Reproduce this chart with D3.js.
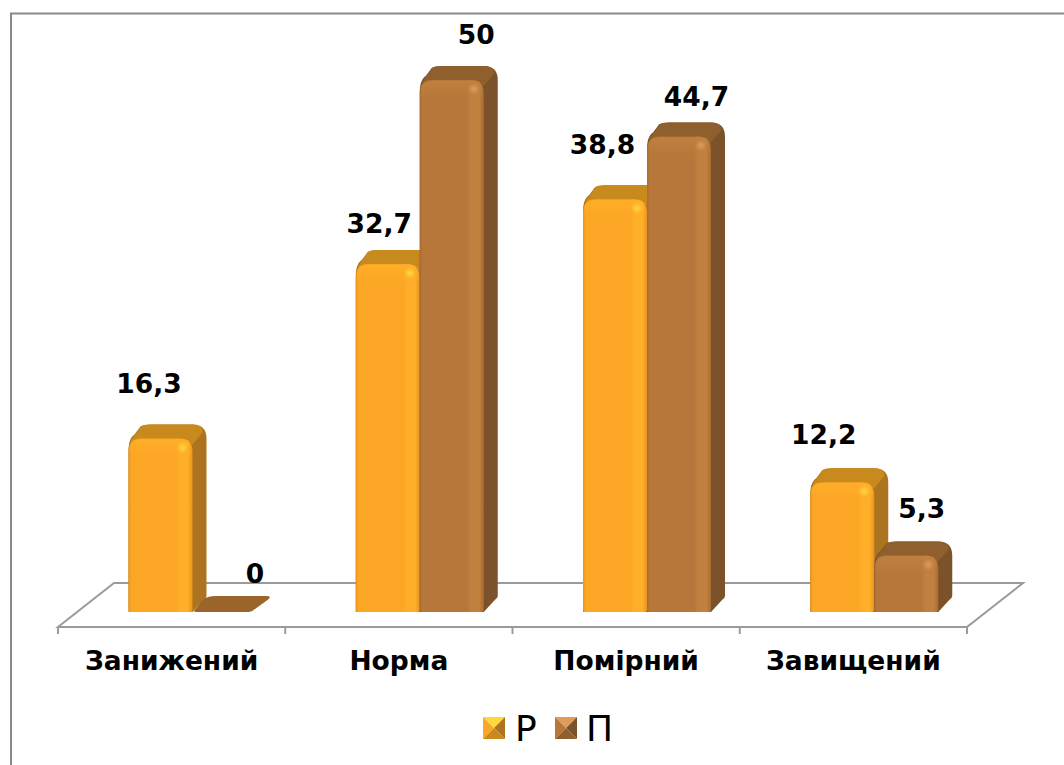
<!DOCTYPE html>
<html lang="uk"><head><meta charset="utf-8">
<script src="https://cdn.jsdelivr.net/npm/d3@7"></script>
<style>html,body{margin:0;padding:0;background:#fff;overflow:hidden}svg{display:block}text{font-family:"DejaVu Sans",sans-serif}</style>
</head><body><svg id="c" width="1064" height="765"></svg>
<script>
const categories = ["Занижений", "Норма", "Помірний", "Завищений"];
const seriesNames = ["Р", "П"];
const seriesR = [16.3, 32.7, 38.8, 12.2];
const seriesP = [0, 50, 44.7, 5.3];
const valueLabels = [["16,3","32,7","38,8","12,2"],["0","50","44,7","5,3"]];
const labelShift = [[[-11,-32],[-8,-17],[-12,-31],[-18,-24]],[[31,-15],[25,-22],[18,-16],[16,-24]]];

const palette = [
 {front:"#fca625",edge:"#e8931c",lite:"#ffae29",top:"#c88a1d",side:"#ad741f",glow:"#ffd83a"},
 {front:"#b8773a",edge:"#a96b30",lite:"#c08040",top:"#8f5f2e",side:"#7b5229",glow:"#e09a5c"}
];
const svg = d3.select("#c"), defs = svg.append("defs");
const floorY = 612, depth = 14;
const x = d3.scaleBand().domain(categories).range([58,967]);
const xS = d3.scaleBand().domain([0,1]).range([70,198]);
const y = d3.scaleLinear().domain([0,50]).range([floorY,80]);

palette.forEach((c,i)=>{
  const g = defs.append("linearGradient").attr("id","fr"+i);
  [[0,c.edge],[.04,c.front],[.74,c.front],[.8,c.lite],[.93,c.lite],[1,c.edge]].forEach(s=>g.append("stop").attr("offset",s[0]).attr("stop-color",s[1]));
  const b = defs.append("linearGradient").attr("id","bv"+i).attr("x2",0).attr("y2",1);
  b.append("stop").attr("offset",0).attr("stop-color",c.lite);
  b.append("stop").attr("offset",1).attr("stop-color",c.lite).attr("stop-opacity",0);
  const r = defs.append("radialGradient").attr("id","gl"+i);
  r.append("stop").attr("offset",0).attr("stop-color",c.glow);
  r.append("stop").attr("offset",1).attr("stop-color",c.glow).attr("stop-opacity",0);
});

svg.append("path").attr("d","M11,765V13.5H1064").attr("fill","none").attr("stroke","#8a8a8a").attr("stroke-width",2);

const fx0=x.range()[0], fx1=x.range()[1], fy=627, backY=583, skew=56;
svg.append("path").attr("d",`M${fx0},${fy}L${fx0+skew},${backY}H${fx1+skew}L${fx1},${fy}Z`)
  .attr("fill","#fff").attr("stroke","#9a9a9a").attr("stroke-width",2);
svg.append("g").selectAll("line").data(x.domain().map(d=>x(d)).concat(fx1)).join("line")
  .attr("x1",d=>d).attr("x2",d=>d).attr("y1",fy).attr("y2",fy+7).attr("stroke","#9a9a9a").attr("stroke-width",2);

const axis = svg.append("g").attr("transform",`translate(0,${fy})`).call(d3.axisBottom(x).tickSize(0).tickPadding(24));
axis.select(".domain").remove();
axis.selectAll("text").attr("font-size",26.5).attr("font-weight",700).attr("fill","#000").style("font-family",'"DejaVu Sans",sans-serif');

function bar(g,i,X,W,top){
  const c=palette[i], d=depth, h=floorY-top, r=Math.min(13,h*.35), R=X+W;
  if(h<=0){
    const e=d+2;
    g.append("path").attr("d",`M${X+4},${floorY}Q${X-1},${floorY} ${X+4},${floorY-4}L${X+e-6},${floorY-e+4}Q${X+e-2},${floorY-e} ${X+e+8},${floorY-e}H${R+d-4}Q${R+d+2},${floorY-e} ${R+d-3},${floorY-e+4}L${R-3},${floorY-2}Q${R-5},${floorY} ${R-10},${floorY}Z`).attr("fill","#9a642b");
    return;
  }
  const s=Math.min(14,h*.4);
  g.append("path").attr("d",`M${X},${floorY}V${top+r}C${X},${top+2} ${X+3},${top-2} ${X+6},${top-4}L${X+d-2},${top-d+2}Q${X+d+1},${top-d} ${X+d+8},${top-d}H${R+d-s}Q${R+d},${top-d} ${R+d},${top-d+s}V${floorY-d-2}Q${R+d},${floorY-d} ${R+d-3},${floorY-d+2}L${R},${floorY}Z`).attr("fill",c.side);
  g.append("path").attr("d",`M${X+2},${top+3}C${X+4},${top-1} ${X+6},${top-3} ${X+8},${top-5}L${X+d-2},${top-d+2}Q${X+d+1},${top-d} ${X+d+8},${top-d}H${R+d-s}Q${R+d-3},${top-d} ${R+d-4},${top-d+8}L${R},${top+6}Z`).attr("fill",c.top);
  g.append("path").attr("d",`M${X},${floorY-2}V${top+r}Q${X},${top} ${X+r},${top}H${R-r}Q${R},${top} ${R},${top+r}V${floorY-2}Q${R},${floorY} ${R-3},${floorY}H${X+3}Q${X},${floorY} ${X},${floorY-2}Z`).attr("fill",`url(#fr${i})`);
  g.append("path").attr("d",`M${X+1},${top+18}V${top+r}Q${X+1},${top+1} ${X+r},${top+1}H${R-r}Q${R-1},${top+1} ${R-1},${top+r}V${top+18}Z`).attr("fill",`url(#bv${i})`);
  g.append("circle").attr("cx",R-10).attr("cy",top+9).attr("r",6).attr("fill",`url(#gl${i})`);
}

const values=[seriesR,seriesP];
categories.forEach((cat,k)=>{
  const g=svg.append("g");
  [0,1].forEach(s=>bar(g,s,x(cat)+xS(s)+.5,xS.bandwidth(),y(values[s][k])));
});
[0,1].forEach(s=>categories.forEach((cat,k)=>{
  const sh=labelShift[s][k];
  svg.append("text").attr("x",x(cat)+xS(s)+xS.bandwidth()/2+sh[0]).attr("y",y(values[s][k])-depth+sh[1])
    .attr("text-anchor","middle").attr("font-size",26.5).attr("font-weight",700).attr("fill","#000").text(valueLabels[s][k]);
}));

const legend=[[483,517],[555,588]];
seriesNames.forEach((n,i)=>{
  const [lx,tx]=legend[i], s=22, ly=717, c=palette[i], m=s/2;
  const g=svg.append("g").attr("transform",`translate(${lx},${ly})`);
  const tri=(pts,f)=>g.append("polygon").attr("points",pts).attr("fill",f);
  tri(`0,0 ${s},0 ${m},${m}`,c.glow);
  tri(`0,0 0,${s} ${m},${m}`,c.front);
  tri(`${s},0 ${s},${s} ${m},${m}`,c.side);
  tri(`0,${s} ${s},${s} ${m},${m}`,c.top);
  svg.append("text").attr("x",tx-2).attr("y",741).attr("font-size",36).attr("fill","#000").text(n);
});
</script></body></html>
